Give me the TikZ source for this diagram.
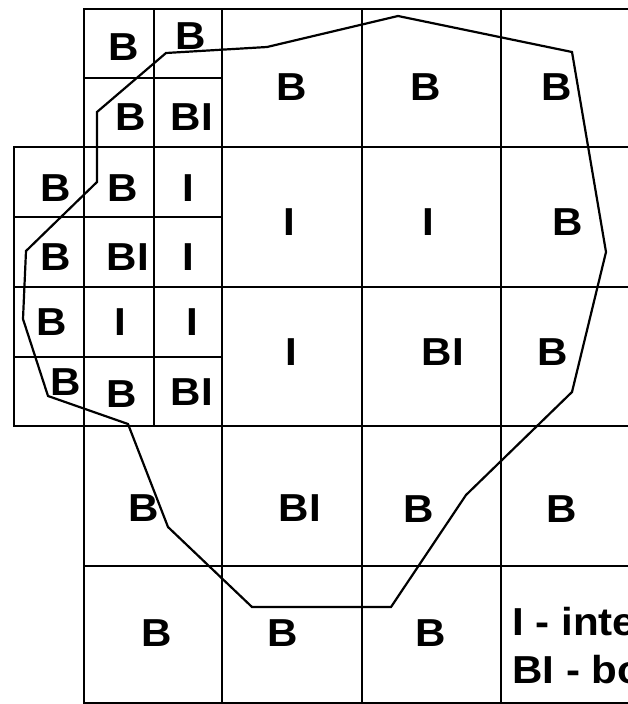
\documentclass[tikz,border=0pt]{standalone}
\usepackage{fontspec}
\setmainfont{Liberation Sans}
\begin{document}
\begin{tikzpicture}[x=1pt,y=-1pt,
  gridline/.style={line width=2.2pt,line cap=rect},
  outline/.style={line width=2.2pt,line join=miter},
  lbl/.style={font=\fontsize{39}{42}\selectfont\bfseries,inner sep=0pt,anchor=center,xscale=1.08},
  legend/.style={font=\fontsize{39}{42}\selectfont\bfseries,inner sep=0pt,anchor=base west,xscale=1.08}]
\useasboundingbox (0,0) rectangle (628,704);
\clip (0,0) rectangle (628,704);
\fill[white] (0,0) rectangle (628,704);
% grid
\draw[gridline] (84,9) -- (640,9);
\draw[gridline] (84,78) -- (222,78);
\draw[gridline] (14,147) -- (640,147);
\draw[gridline] (14,217) -- (222,217);
\draw[gridline] (14,287) -- (640,287);
\draw[gridline] (14,357) -- (222,357);
\draw[gridline] (14,426) -- (640,426);
\draw[gridline] (84,566) -- (640,566);
\draw[gridline] (84,703) -- (640,703);
\draw[gridline] (14,147) -- (14,426);
\draw[gridline] (84,9) -- (84,710);
\draw[gridline] (154,9) -- (154,426);
\draw[gridline] (222,9) -- (222,710);
\draw[gridline] (362,9) -- (362,710);
\draw[gridline] (501,9) -- (501,710);
% outline polygon
\draw[outline] (166,53) -- (267,47) -- (398,16) -- (572,52) -- (606,252) -- (572,392)
  -- (466,495) -- (391,607) -- (252,607) -- (168,527) -- (128,424) -- (48,396)
  -- (23,319) -- (26,251) -- (97,182) -- (97,112) -- cycle;
% labels
\node[lbl] (a1) at (124,47) {B};
\node[lbl] (a2) at (191,36) {B};
\node[lbl] (a3) at (131,117) {B};
\node[lbl] (a4) at (192,117) {BI};
\node[lbl] (b1) at (56,188) {B};
\node[lbl] (b2) at (123,188) {B};
\node[lbl] (b3) at (188,188) {I};
\node[lbl] (c1) at (56,257) {B};
\node[lbl] (c2) at (128,257) {BI};
\node[lbl] (c3) at (188,257) {I};
\node[lbl] (d1) at (52,322) {B};
\node[lbl] (d2) at (120,322) {I};
\node[lbl] (d3) at (192,322) {I};
\node[lbl] (e1) at (66,382) {B};
\node[lbl] (e2) at (122,394) {B};
\node[lbl] (e3) at (192,392) {BI};
\node[lbl] (t1) at (292,87) {B};
\node[lbl] (t2) at (426,87) {B};
\node[lbl] (t3) at (557,87) {B};
\node[lbl] (m1) at (289,222) {I};
\node[lbl] (m2) at (428,222) {I};
\node[lbl] (m3) at (568,222) {B};
\node[lbl] (n1) at (291,352) {I};
\node[lbl] (n2) at (443,352) {BI};
\node[lbl] (n3) at (553,352) {B};
\node[lbl] (p1) at (144,508) {B};
\node[lbl] (p2) at (300,508) {BI};
\node[lbl] (p3) at (419,509) {B};
\node[lbl] (p4) at (562,509) {B};
\node[lbl] (q1) at (157,633) {B};
\node[lbl] (q2) at (283,633) {B};
\node[lbl] (q3) at (431,633) {B};
% legend (cut off at the right edge, as in the reference)
\node[legend] (l1) at (512,635) {I - interior};
\node[legend] (l2) at (512,683) {BI - boundary interior};
\node[legend] (l3) at (512,731) {B - boundary};
\end{tikzpicture}
\end{document}
